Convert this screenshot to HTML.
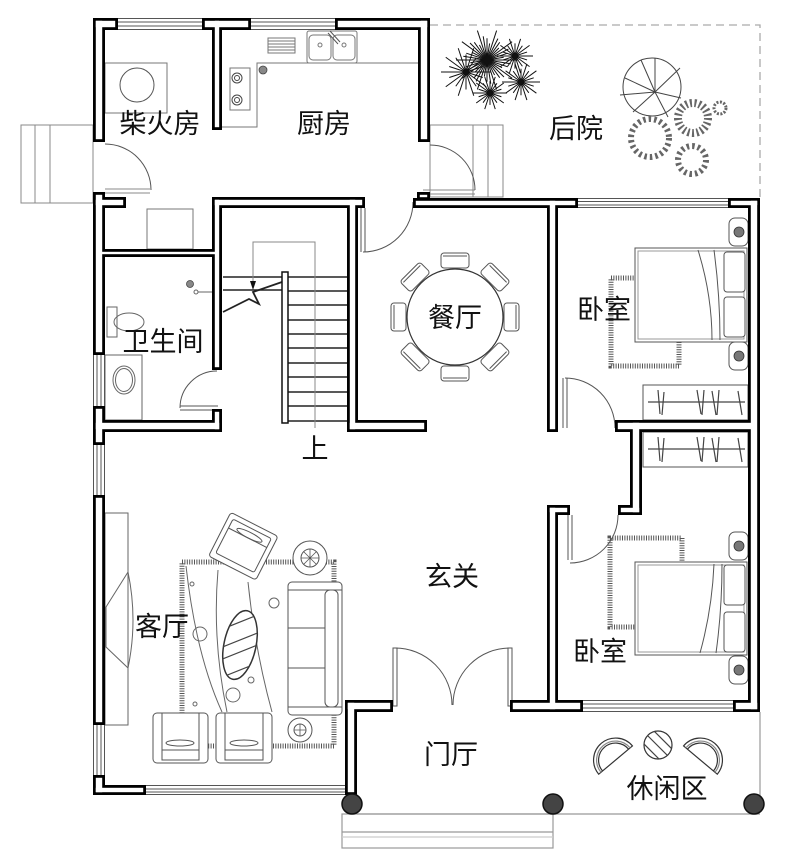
<!DOCTYPE html>
<html><head><meta charset="utf-8"><style>
html,body{margin:0;padding:0;background:#fff;}
svg{display:block;}
text{font-family:"Liberation Sans","Noto Sans CJK SC",sans-serif;font-size:27px;fill:#111;}
</style></head><body>
<svg width="789" height="867" viewBox="0 0 789 867" xmlns="http://www.w3.org/2000/svg">
<defs>
<g id="bu"><path vector-effect="non-scaling-stroke" stroke-width="1" fill="none" d="M0 0L1 0M0 0L.67 .22M0 0L.81 .59M0 0L.41 .57M0 0L.31 .95M0 0L0 .7M0 0L-.31 .95M0 0L-.41 .57M0 0L-.81 .59M0 0L-.67 .22M0 0L-1 0M0 0L-.67 -.22M0 0L-.81 -.59M0 0L-.41 -.57M0 0L-.31 -.95M0 0L0 -.7M0 0L.31 -.95M0 0L.41 -.57M0 0L.81 -.59M0 0L.67 -.22"/></g>
<clipPath id="blob"><ellipse cx="240" cy="645" rx="16" ry="35" transform="rotate(12 240 645)"/></clipPath>
<clipPath id="tb"><circle cx="658" cy="745" r="14"/></clipPath>
</defs>
<rect width="789" height="867" fill="#fff"/>

<!-- backyard boundary -->
<path d="M430,25 L760,25 L760,198" fill="none" stroke="#aaa" stroke-width="1.3" stroke-dasharray="8 5"/>

<!-- palm -->
<g stroke="#111">
<use href="#bu" transform="translate(487,60) scale(31)"/>
<use href="#bu" transform="translate(487,60) rotate(9) scale(24)"/>
<use href="#bu" transform="translate(466,72) scale(25)"/>
<use href="#bu" transform="translate(515,56) scale(18)"/>
<use href="#bu" transform="translate(521,82) scale(19)"/>
<use href="#bu" transform="translate(490,93) scale(17)"/>
</g>
<!-- tree -->
<g fill="none" stroke="#444" stroke-width="1">
<circle cx="652" cy="87" r="29"/>
<path d="M655,92 L641,60 M655,92 L680,68 M655,92 L620,95 M655,92 L668,117 M655,92 L633,112 M655,92 L681,98 M655,92 L655,58 M655,92 L625,78"/>
</g>
<g fill="none" stroke="#666">
<circle cx="650" cy="138" r="19" stroke-width="6" stroke-dasharray="2.5 3"/>
<circle cx="693" cy="118" r="15" stroke-width="8" stroke-dasharray="2 2.5"/>
<circle cx="692" cy="160" r="14" stroke-width="6" stroke-dasharray="2.5 3"/>
<circle cx="720" cy="108" r="6" stroke-width="3" stroke-dasharray="2 1.5"/>
</g>

<!-- left steps -->
<g fill="none" stroke="#888" stroke-width="1">
<rect x="21" y="125" width="72" height="78"/>
<path d="M35,125 V203 M50,125 V203"/>
<path d="M105,189 H150 M105,193 H150"/>
<!-- back steps -->
<rect x="430" y="125" width="73" height="72"/>
<path d="M473,125 V197 M488,125 V197"/>
<path d="M423,190 H475 M423,194 H475"/>
</g>

<!-- doors -->
<g fill="none" stroke="#555" stroke-width="1">
<path d="M105,144 A46,46 0 0 1 151,190"/>
<path d="M430,145 A45,45 0 0 1 475,190"/>
<path d="M363,252 A50,50 0 0 0 413,202"/>
<path d="M361,208 V252 M365,208 V252"/>
<path d="M217,371 A37,37 0 0 0 180,408"/>
<path d="M180,406 H218 M180,410 H218"/>
<path d="M565,378 A50,50 0 0 1 615,428"/>
<path d="M563,378 V428 M567,378 V428"/>
<path d="M618,515 A48,48 0 0 1 570,563"/>
<path d="M568,515 V560 M572,515 V560"/>
<path d="M395,648 A57,57 0 0 1 452,705"/>
<path d="M510,648 A57,57 0 0 0 453,705"/>
<rect x="393" y="648" width="4" height="58"/>
<rect x="508" y="648" width="4" height="58"/>
</g>

<!-- 柴火房 stove -->
<g fill="none" stroke="#777" stroke-width="1">
<rect x="105" y="63" width="62" height="50"/>
<circle cx="137" cy="85" r="17" stroke="#555"/>
<rect x="147" y="209" width="46" height="40"/>
<path d="M222,127 H257 V63 H418"/>
<rect x="268" y="38" width="27" height="15"/>
<path d="M268,41 H295 M268,44 H295 M268,47 H295 M268,50 H295"/>
<rect x="307" y="31" width="50" height="32" rx="2"/>
<rect x="309" y="35" width="22" height="25" rx="4"/>
<rect x="333" y="35" width="22" height="25" rx="4"/>
<circle cx="320" cy="45" r="2"/><circle cx="344" cy="45" r="2"/>
<path d="M328,33 L338,44 M330,31 L340,42" stroke="#555"/>
<rect x="230" y="68" width="20" height="42"/>
<circle cx="237" cy="78" r="5" stroke="#444"/><circle cx="237" cy="78" r="2.5" stroke="#444"/>
<circle cx="237" cy="100" r="5" stroke="#444"/><circle cx="237" cy="100" r="2.5" stroke="#444"/>
</g>
<circle cx="263" cy="70" r="4" fill="#888" stroke="#444" stroke-width="0.8"/>

<!-- 卫生间 -->
<g fill="none" stroke="#666" stroke-width="1">
<rect x="107" y="307" width="10" height="30"/>
<ellipse cx="129" cy="322" rx="15" ry="9"/>
<rect x="105" y="355" width="37" height="65"/>
<ellipse cx="124" cy="380" rx="11" ry="14"/>
<ellipse cx="124" cy="380" rx="8.5" ry="11.5"/>
<circle cx="196" cy="292" r="2"/>
<path d="M198,292 H212"/>
</g>
<circle cx="190" cy="284" r="3.5" fill="#888" stroke="#444" stroke-width="0.8"/>

<!-- stair -->
<g fill="none" stroke="#222" stroke-width="1.6">
<path d="M287,277 H347 M287,291 H347 M287,305 H347 M287,320 H347 M287,334 H347 M287,348 H347 M287,363 H347 M287,377 H347 M287,392 H347 M287,406 H347 M287,421 H347"/>
<path d="M223,277 H282 M223,290 H282"/>
<path d="M223,312 L249,299 L259,304 L253,292 L282,282" stroke-width="1.8"/>
</g>
<path d="M253,288 V242 H315 V428" fill="none" stroke="#888" stroke-width="1"/>
<polygon points="250,281 256,281 253,290" fill="#111"/>
<rect x="282" y="272" width="6" height="151" fill="#fff" stroke="#111" stroke-width="1.5"/>

<!-- dining -->
<g fill="#fff" stroke="#555" stroke-width="1">
<g transform="translate(455,317) rotate(0)"><rect x="-14" y="-64" width="28" height="15" rx="3"/><path d="M-12,-61 H12" fill="none"/></g>
<g transform="translate(455,317) rotate(45)"><rect x="-14" y="-64" width="28" height="15" rx="3"/><path d="M-12,-61 H12" fill="none"/></g>
<g transform="translate(455,317) rotate(90)"><rect x="-14" y="-64" width="28" height="15" rx="3"/><path d="M-12,-61 H12" fill="none"/></g>
<g transform="translate(455,317) rotate(135)"><rect x="-14" y="-64" width="28" height="15" rx="3"/><path d="M-12,-61 H12" fill="none"/></g>
<g transform="translate(455,317) rotate(180)"><rect x="-14" y="-64" width="28" height="15" rx="3"/><path d="M-12,-61 H12" fill="none"/></g>
<g transform="translate(455,317) rotate(225)"><rect x="-14" y="-64" width="28" height="15" rx="3"/><path d="M-12,-61 H12" fill="none"/></g>
<g transform="translate(455,317) rotate(270)"><rect x="-14" y="-64" width="28" height="15" rx="3"/><path d="M-12,-61 H12" fill="none"/></g>
<g transform="translate(455,317) rotate(315)"><rect x="-14" y="-64" width="28" height="15" rx="3"/><path d="M-12,-61 H12" fill="none"/></g>
<circle cx="455" cy="317" r="48" stroke="#333" stroke-width="1.2"/>
</g>

<!-- bedroom 1 -->
<rect x="611" y="278" width="68" height="88" fill="none" stroke="#555" stroke-width="5" stroke-dasharray="1 1.4"/>
<g fill="#fff" stroke="#555" stroke-width="1">
<rect x="635" y="248" width="112" height="94"/>
<rect x="638" y="251" width="106" height="88" fill="none" stroke="#999"/>
<path d="M698,250 Q712,295 712,340 M714,250 Q720,295 720,340" fill="none"/>
<rect x="724" y="252" width="21" height="40" rx="3"/>
<rect x="724" y="297" width="21" height="40" rx="3"/>
<rect x="729" y="218" width="19" height="28" rx="6"/>
<rect x="729" y="342" width="19" height="28" rx="6"/>
<rect x="643" y="385" width="105" height="35"/>
<rect x="643" y="432" width="105" height="35"/>
<rect x="729" y="532" width="19" height="28" rx="6"/>
<rect x="729" y="656" width="19" height="28" rx="6"/>
</g>
<g fill="#777" stroke="#333" stroke-width="0.8">
<circle cx="739" cy="232" r="5"/><circle cx="739" cy="356" r="5"/>
<circle cx="739" cy="546" r="5"/><circle cx="739" cy="670" r="5"/>
</g>
<g fill="none" stroke="#444" stroke-width="1.2">
<path d="M648,402 H745 M648,449 H745"/>
<path d="M658,390 L660,414 M664,392 L662,415 M697,390 L701,414 M704,390 L702,415 M712,391 L716,415 M719,390 L717,415 M738,391 L742,415"/>
<path d="M658,437 L660,461 M664,438 L662,462 M697,437 L701,461 M704,437 L702,462 M712,438 L716,462 M719,437 L717,462 M738,438 L742,462"/>
</g>

<!-- bedroom 2 -->
<rect x="610" y="538" width="72" height="89" fill="none" stroke="#555" stroke-width="5" stroke-dasharray="1 1.4"/>
<g fill="#fff" stroke="#555" stroke-width="1">
<rect x="635" y="562" width="112" height="93"/>
<rect x="638" y="565" width="106" height="87" fill="none" stroke="#999"/>
<path d="M714,564 Q712,610 700,653 M722,564 Q722,610 716,653" fill="none"/>
<rect x="724" y="565" width="21" height="40" rx="3"/>
<rect x="724" y="612" width="21" height="40" rx="3"/>
</g>

<!-- living room -->
<g fill="#fff" stroke="#666" stroke-width="1">
<rect x="105" y="513" width="23" height="212"/>
<path d="M128,572 L106,607 L106,647 L128,668 M128,572 Q138,620 128,668" fill="none"/>
</g>
<rect x="182" y="562" width="152" height="184" fill="none" stroke="#555" stroke-width="5" stroke-dasharray="1 1.4"/>
<rect x="186" y="566" width="144" height="176" fill="#fff"/>
<g fill="none" stroke="#666" stroke-width="1">
<path d="M186,566 Q196,655 222,712 M218,570 Q212,640 227,712 M248,582 Q255,650 272,712"/>
<circle cx="200" cy="634" r="7"/><circle cx="274" cy="603" r="5"/><circle cx="233" cy="695" r="7"/>
<circle cx="251" cy="680" r="3"/><circle cx="192" cy="584" r="2"/><circle cx="195" cy="704" r="2"/>
</g>
<ellipse cx="240" cy="645" rx="16" ry="35" transform="rotate(12 240 645)" fill="#fff" stroke="#333" stroke-width="1.5"/>
<g clip-path="url(#blob)" stroke="#444" stroke-width="1.2">
<path d="M215,620 L265,600 M215,632 L265,612 M215,650 L265,630 M215,662 L265,642 M215,680 L265,660 M215,690 L265,670"/>
</g>
<g fill="#fff" stroke="#555" stroke-width="1">
<g transform="translate(244,546) rotate(27)">
<rect x="-27" y="-24" width="53" height="49" rx="3"/>
<rect x="-22" y="-19" width="43" height="38" rx="2"/>
<path d="M-22,-9 H21" fill="none"/>
<ellipse cx="0" cy="-12" rx="14" ry="3" fill="none"/>
</g>
<rect x="153" y="713" width="55" height="50" rx="4"/>
<path d="M162,713 V750 H199 V713 M162,750 V760 H199 V750" fill="none"/>
<ellipse cx="180" cy="743" rx="14" ry="3" fill="none"/>
<rect x="216" y="713" width="56" height="50" rx="4"/>
<path d="M225,713 V750 H263 V713 M225,750 V760 H263 V750" fill="none"/>
<ellipse cx="244" cy="743" rx="14" ry="3" fill="none"/>
<rect x="288" y="582" width="54" height="133" rx="4"/>
<path d="M288,590 H342 M288,707 H342 M288,628 H326 M288,668 H326" fill="none"/>
<rect x="325" y="590" width="13" height="117" rx="5"/>
<circle cx="310" cy="558" r="17"/>
<circle cx="310" cy="558" r="9"/>
<circle cx="300" cy="730" r="12"/>
<circle cx="300" cy="730" r="6"/>
</g>
<path d="M310,549 V567 M301,558 H319 M304,552 L316,564 M316,552 L304,564 M300,724 V736 M294,730 H306" stroke="#555" stroke-width="0.8"/>

<!-- leisure -->
<g fill="#fff" stroke="#333" stroke-width="1.2">
<g transform="translate(613,757) rotate(-40)"><path d="M-22,4 A22,22 0 0 1 22,4 Z"/><path d="M-17,4 A17,17 0 0 1 17,4" fill="none"/><path d="M-19,4 A19,19 0 0 1 19,4" fill="none" stroke="#888"/></g>
<g transform="translate(703,757) rotate(40)"><path d="M-22,4 A22,22 0 0 1 22,4 Z"/><path d="M-17,4 A17,17 0 0 1 17,4" fill="none"/><path d="M-19,4 A19,19 0 0 1 19,4" fill="none" stroke="#888"/></g>
<circle cx="658" cy="745" r="14"/>
</g>
<g clip-path="url(#tb)" stroke="#444" stroke-width="1.2">
<path d="M640,740 L665,765 M645,733 L672,760 M650,727 L678,755"/>
</g>

<!-- porch -->
<g fill="none" stroke="#999" stroke-width="1.2">
<path d="M357,814 H760 M760,712 V805"/>
<rect x="342" y="814" width="211" height="34"/>
<path d="M342,832 H553"/>
<path d="M342,837 H553" stroke="#ccc"/>
</g>

<!-- windows -->
<g fill="none" stroke="#555" stroke-width="1">
<path d="M118,18.5 H202 M118,22 H202 M118,26 H202 M118,29.5 H202"/>
<path d="M251,18.5 H335 M251,22 H335 M251,26 H335 M251,29.5 H335"/>
<path d="M93.5,355 V406 M97,355 V406 M101,355 V406 M104.5,355 V406"/>
<path d="M93.5,445 V495 M97,445 V495 M101,445 V495 M104.5,445 V495"/>
<path d="M93.5,725 V775 M97,725 V775 M101,725 V775 M104.5,725 V775"/>
<path d="M146,785.5 H345 M146,789 H345 M146,792 H345 M146,794.5 H345"/>
<path d="M578,198.5 H728 M578,201.5 H728 M578,205 H728 M578,207.5 H728"/>
<path d="M583,700.5 H733 M583,704 H733 M583,708 H733 M583,711.5 H733"/>
</g>

<!-- walls: black pass -->
<g fill="#000">
<rect x="93" y="18" width="12" height="124"/>
<rect x="93" y="18" width="25" height="12"/>
<rect x="202" y="18" width="49" height="12"/>
<rect x="212" y="18" width="10" height="112"/>
<rect x="335" y="18" width="95" height="12"/>
<rect x="418" y="18" width="12" height="124"/>
<rect x="93" y="192" width="12" height="163"/>
<rect x="93" y="197" width="33" height="11"/>
<rect x="99" y="249" width="119" height="8"/>
<rect x="212" y="197" width="10" height="173"/>
<rect x="212" y="197" width="153" height="11"/>
<rect x="347" y="197" width="11" height="235"/>
<rect x="93" y="420" width="129" height="12"/>
<rect x="93" y="406" width="12" height="39"/>
<rect x="212" y="409" width="10" height="23"/>
<rect x="93" y="495" width="12" height="230"/>
<rect x="93" y="775" width="12" height="20"/>
<rect x="93" y="785" width="53" height="10"/>
<rect x="345" y="700" width="12" height="95"/>
<rect x="345" y="700" width="48" height="12"/>
<rect x="510" y="700" width="73" height="12"/>
<rect x="547" y="505" width="11" height="207"/>
<rect x="547" y="505" width="23" height="10"/>
<rect x="733" y="700" width="27" height="12"/>
<rect x="748" y="198" width="12" height="514"/>
<rect x="728" y="198" width="32" height="10"/>
<rect x="413" y="198" width="165" height="10"/>
<rect x="417" y="192" width="13" height="8"/>
<rect x="547" y="198" width="11" height="234"/>
<rect x="347" y="420" width="80" height="12"/>
<rect x="615" y="420" width="139" height="12"/>
<rect x="630" y="420" width="12" height="95"/>
<rect x="618" y="505" width="24" height="10"/>
</g>
<!-- walls: white pass -->
<g fill="#fff">
<rect x="95.8" y="20.8" width="6.4" height="118.4"/>
<rect x="95.8" y="20.8" width="19.4" height="6.4"/>
<rect x="204.8" y="20.8" width="43.4" height="6.4"/>
<rect x="214.8" y="20.8" width="4.4" height="106.4"/>
<rect x="337.8" y="20.8" width="89.4" height="6.4"/>
<rect x="420.8" y="20.8" width="6.4" height="118.4"/>
<rect x="95.8" y="194.8" width="6.4" height="157.4"/>
<rect x="95.8" y="199.8" width="27.4" height="5.4"/>
<rect x="101.8" y="251.8" width="113.4" height="2.4"/>
<rect x="214.8" y="199.8" width="4.4" height="167.4"/>
<rect x="214.8" y="199.8" width="147.4" height="5.4"/>
<rect x="349.8" y="199.8" width="5.4" height="229.4"/>
<rect x="95.8" y="422.8" width="123.4" height="6.4"/>
<rect x="95.8" y="408.8" width="6.4" height="33.4"/>
<rect x="214.8" y="411.8" width="4.4" height="17.4"/>
<rect x="95.8" y="497.8" width="6.4" height="224.4"/>
<rect x="95.8" y="777.8" width="6.4" height="14.4"/>
<rect x="95.8" y="787.8" width="47.4" height="4.4"/>
<rect x="347.8" y="702.8" width="6.4" height="89.4"/>
<rect x="347.8" y="702.8" width="42.4" height="6.4"/>
<rect x="512.8" y="702.8" width="67.4" height="6.4"/>
<rect x="549.8" y="507.8" width="5.4" height="201.4"/>
<rect x="549.8" y="507.8" width="17.4" height="4.4"/>
<rect x="735.8" y="702.8" width="21.4" height="6.4"/>
<rect x="750.8" y="200.8" width="6.4" height="508.4"/>
<rect x="730.8" y="200.8" width="26.4" height="4.4"/>
<rect x="415.8" y="200.8" width="159.4" height="4.4"/>
<rect x="419.8" y="194.8" width="7.4" height="2.4"/>
<rect x="549.8" y="200.8" width="5.4" height="228.4"/>
<rect x="349.8" y="422.8" width="74.4" height="6.4"/>
<rect x="617.8" y="422.8" width="133.4" height="6.4"/>
<rect x="632.8" y="422.8" width="6.4" height="89.4"/>
<rect x="620.8" y="507.8" width="18.4" height="4.4"/>
</g>

<!-- columns -->
<g fill="#444" stroke="#111" stroke-width="1.5">
<circle cx="352" cy="804" r="10"/>
<circle cx="553" cy="804" r="10"/>
<circle cx="754" cy="804" r="10"/>
</g>

<!-- labels -->
<g text-anchor="middle" dominant-baseline="central">
<text x="160" y="124">柴火房</text>
<text x="324" y="124">厨房</text>
<text x="576" y="129">后院</text>
<text x="163" y="342">卫生间</text>
<text x="455" y="318">餐厅</text>
<text x="604" y="310">卧室</text>
<text x="315" y="449">上</text>
<text x="162" y="627">客厅</text>
<text x="452" y="577">玄关</text>
<text x="600" y="652">卧室</text>
<text x="451" y="755">门厅</text>
<text x="667" y="789">休闲区</text>
</g>
</svg>
</body></html>
